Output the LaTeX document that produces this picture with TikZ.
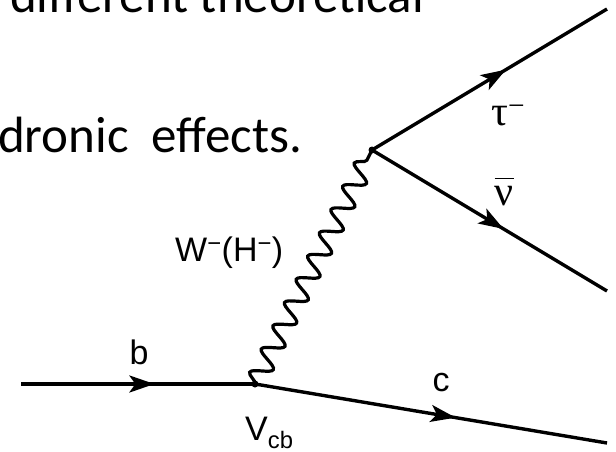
\documentclass[tikz,border=0pt]{standalone}
\usepackage{fontspec}
\setmainfont{Carlito}
\newfontfamily\labelfont{Liberation Sans}
\newfontfamily\greekfont{Liberation Serif}
\usepackage{tikz}
\usetikzlibrary{arrows.meta, positioning, decorations.pathmorphing, decorations.markings}

\begin{document}
\begin{tikzpicture}[x=1pt, y=-1pt,
		fermion/.style={line width=3.4pt, postaction={decorate},
			decoration={markings, mark=at position #1 with {\arrow{Stealth[length=25pt, width=17pt, inset=6pt]}}}},
		fermion/.default=0.57,
		boson/.style={line width=3.2pt, decorate, decoration={snake, segment length=26pt, amplitude=10pt}},
		vtx/.style={circle, fill, inner sep=0pt, minimum size=7pt},
		lbl/.style={font=\labelfont\fontsize{34}{34}\selectfont, inner sep=0pt},
		glbl/.style={font=\greekfont\fontsize{42}{42}\selectfont, inner sep=0pt},
		slide/.style={font=\fontsize{51}{51}\selectfont, anchor=base west, inner sep=0pt}]
	\useasboundingbox (0,0) rectangle (616,452);
	\clip (0,0) rectangle (616,452);
	\node[slide] (top) at (10,13) {different theoretical};
	\node[slide] (had) at (-2,152) {dronic\ \ effects.};
	\node[vtx] (lv) at (255,384) {};
	\node[vtx] (uv) at (372,150) {};
	\coordinate (bin) at (21,384);
	\coordinate (cout) at (607,443);
	\coordinate (tout) at (607,9);
	\coordinate (nout) at (607,291);
	\draw[fermion] (bin) -- (lv.center);
	\draw[fermion] (lv.center) -- (cout);
	\draw[fermion] (uv.center) -- (tout);
	\draw[fermion=0.56] (uv.center) -- (nout);
	\draw[boson] (lv.center) -- (uv.center);
	\node[lbl] (b) at (139,352) {b};
	\node[lbl] (c) at (441,383) {c};
	\node[lbl, anchor=base west] (vcb) at (245,440) {V\textsubscript{cb}};
	\node[lbl, anchor=base west] (w) at (175,261) {W\textsuperscript{−}(H\textsuperscript{−})};
	\node[glbl, anchor=base west] (tau) at (491,125) {τ\textsuperscript{−}};
	\node[glbl, anchor=base] (nubar) at (504,205) {$\overline{\hbox{ν\rule{0pt}{0.6em}}}$};
\end{tikzpicture}
\end{document}
